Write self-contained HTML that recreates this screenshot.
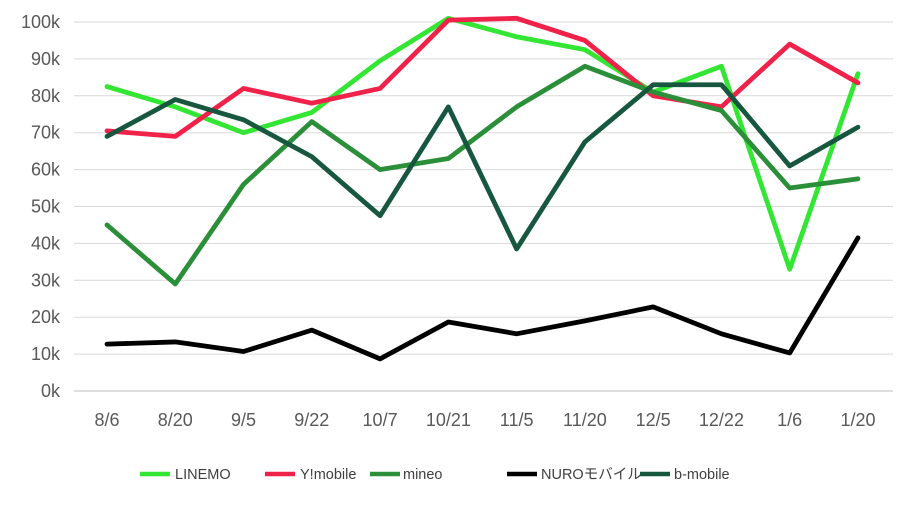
<!DOCTYPE html>
<html><head><meta charset="utf-8"><style>
body{margin:0;background:#fff;}
svg text{font-family:"Liberation Sans","Noto Sans CJK JP",sans-serif;}
</style></head><body>
<svg width="906" height="513" viewBox="0 0 906 513" xmlns="http://www.w3.org/2000/svg">
<g id="grid" stroke="#d9d9d9" stroke-width="1"></g>
<g id="ylab" font-size="18" fill="#595959" text-anchor="end"></g>
<g id="xlab" font-size="18" fill="#595959" text-anchor="middle"></g>
<g id="lines" fill="none" stroke-width="4.8" stroke-linejoin="round" stroke-linecap="round"></g>
<g font-size="14.5" fill="#404040">
<line x1="140" y1="474" x2="170" y2="474" stroke="#33e633" stroke-width="4.5"/><text x="175" y="479">LINEMO</text>
<line x1="265" y1="474" x2="295" y2="474" stroke="#f0224a" stroke-width="4.5"/><text x="300" y="479">Y!mobile</text>
<line x1="370" y1="474" x2="400" y2="474" stroke="#2b8f3a" stroke-width="4.5"/><text x="403" y="479">mineo</text>
<line x1="507" y1="474" x2="537" y2="474" stroke="#000" stroke-width="4.5"/><text x="541" y="479">NUROモバイル</text>
<line x1="640" y1="474" x2="670" y2="474" stroke="#17573f" stroke-width="4.5"/><text x="674" y="479">b-mobile</text>
</g>
</svg>
<script>
const ns="http://www.w3.org/2000/svg";
function el(p,t,a,txt){const e=document.createElementNS(ns,t);for(const k in a)e.setAttribute(k,a[k]);if(txt!=null)e.textContent=txt;document.getElementById(p).appendChild(e);}
const y0=391,dy=3.69;
for(let i=0;i<=10;i++){const y=y0-i*10*dy;el('grid','line',{x1:74,x2:893,y1:y,y2:y,stroke:i==0?'#bfbfbf':'#d9d9d9'});el('ylab','text',{x:60,y:y+6},(i*10)+'k');}
const xs=["8/6","8/20","9/5","9/22","10/7","10/21","11/5","11/20","12/5","12/22","1/6","1/20"];
const X=i=>107+i*68.27;
xs.forEach((s,i)=>el('xlab','text',{x:X(i),y:426},s));
const S=[
["#33e633",[82.5,77,70,75.5,89.5,101,96,92.5,81,88,33,86]],
["#f0224a",[70.5,69,82,78,82,100.5,101,95,80,77,94,83.5]],
["#2b8f3a",[45,29,56,73,60,63,77,88,81,76,55,57.5]],
["#000000",[12.7,13.3,10.7,16.5,8.7,18.7,15.5,19,22.8,15.5,10.3,41.5]],
["#17573f",[69,79,73.5,63.5,47.5,77,38.5,67.5,83,83,61,71.5]]];
S.forEach(([c,d])=>el('lines','polyline',{stroke:c,points:d.map((v,i)=>X(i)+','+(y0-v*dy)).join(' ')}));
</script>
</body></html>
